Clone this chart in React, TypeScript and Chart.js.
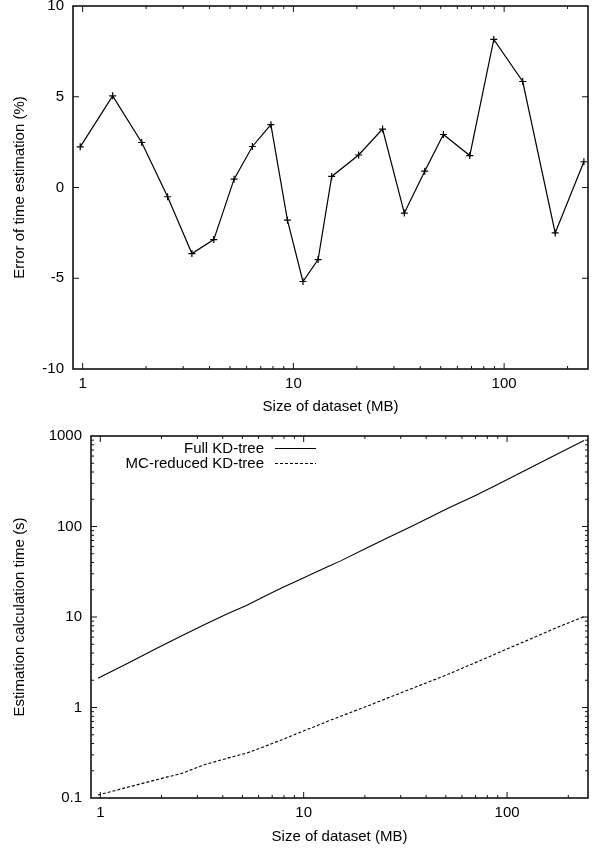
import React, { useEffect, useRef } from "react";
import { Chart, registerables } from "chart.js";

Chart.register(...registerables);

// ---------- data ----------
const sizes = [0.974, 1.388, 1.907, 2.53, 3.3, 4.19, 5.23, 6.39, 7.82, 9.37, 11.1, 13.1, 15.2, 20.4, 26.5, 33.6, 42.0, 51.5, 68.7, 89.3, 122.5, 174.7, 239];
const errors = [2.24, 5.05, 2.48, -0.51, -3.64, -2.87, 0.46, 2.26, 3.46, -1.8, -5.18, -3.97, 0.61, 1.79, 3.22, -1.41, 0.9, 2.92, 1.76, 8.16, 5.84, -2.5, 1.42];
const fullTimes = [2.1, 3.14, 4.55, 6.24, 8.37, 10.8, 13.4, 16.8, 21.1, 25.3, 30.2, 35.8, 41.7, 57.8, 76.9, 99.5, 127, 160, 216, 290, 415, 625, 890];
const mcTimes = [0.108, 0.133, 0.16, 0.188, 0.236, 0.274, 0.313, 0.37, 0.44, 0.52, 0.605, 0.703, 0.8, 1.03, 1.3, 1.6, 1.95, 2.34, 3.08, 3.97, 5.39, 7.61, 10.1];

const xTickLabels = [1, 10, 100];
const errTicks = [-10, -5, 0, 5, 10];
const timeTickLabels = [0.1, 1, 10, 100, 1000];

const seriesLabels = ["Full KD-tree", "MC-reduced KD-tree"];

const FONT = "'Liberation Sans', Arial, Helvetica, sans-serif";
const FS = 15;

function logTicks(min: number, max: number) {
  const out: any[] = [];
  for (let e = Math.floor(Math.log10(min)); e <= Math.ceil(Math.log10(max)); e++) {
    for (let m = 1; m <= 9; m++) {
      const v = parseFloat((m * Math.pow(10, e)).toPrecision(6));
      if (v >= min * 0.9999 && v <= max * 1.0001) out.push({ value: v, major: m === 1 });
    }
  }
  return out;
}

const framePlugin = {
  id: "frame",
  afterDatasetsDraw(chart: any) {
    const { ctx, chartArea: a, scales } = chart;
    ctx.save();
    ctx.strokeStyle = "#111";
    ctx.lineWidth = 1;
    ctx.beginPath();
    const xs = scales.x;
    const ys = scales.y;
    for (const t of xs.ticks) {
      const px = xs.getPixelForValue(t.value);
      if (px < a.left + 0.5 || px > a.right - 0.5) continue;
      const len = xs.type === "linear" || t.major ? 6 : 3;
      ctx.moveTo(px, a.bottom);
      ctx.lineTo(px, a.bottom - len);
      ctx.moveTo(px, a.top);
      ctx.lineTo(px, a.top + len);
    }
    for (const t of ys.ticks) {
      const py = ys.getPixelForValue(t.value);
      if (py < a.top + 0.5 || py > a.bottom - 0.5) continue;
      const len = ys.type === "linear" || t.major ? 6 : 3;
      ctx.moveTo(a.left, py);
      ctx.lineTo(a.left + len, py);
      ctx.moveTo(a.right, py);
      ctx.lineTo(a.right - len, py);
    }
    ctx.stroke();
    ctx.lineWidth = 1.6;
    ctx.strokeRect(a.left, a.top, a.right - a.left, a.bottom - a.top);
    ctx.restore();
  },
};

const legendPlugin = {
  id: "gpLegend",
  afterDraw(chart: any) {
    const { ctx, chartArea: a } = chart;
    ctx.save();
    ctx.font = `${FS}px ${FONT}`;
    ctx.fillStyle = "#000";
    ctx.textAlign = "right";
    ctx.textBaseline = "middle";
    chart.data.datasets.forEach((ds: any, i: number) => {
      const y = a.top + 12.5 + i * 15;
      ctx.fillText(ds.label, a.left + 173, y);
      ctx.beginPath();
      ctx.strokeStyle = ds.borderColor;
      ctx.lineWidth = ds.borderWidth;
      ctx.setLineDash(ds.borderDash || []);
      ctx.moveTo(a.left + 184, y);
      ctx.lineTo(a.left + 225, y);
      ctx.stroke();
    });
    ctx.restore();
  },
};

const font = { family: FONT, size: FS };

function noPad(s: any) {
  s.paddingTop = 0;
  s.paddingBottom = 0;
  s.paddingLeft = 0;
  s.paddingRight = 0;
}

function xScale(height: number) {
  return {
    type: "logarithmic",
    position: "bottom",
    min: 0.9,
    max: 250,
    grid: { display: false, drawTicks: false },
    border: { display: false },
    afterBuildTicks: (s: any) => {
      s.ticks = logTicks(s.min, s.max);
    },
    ticks: {
      autoSkip: false,
      maxRotation: 0,
      padding: 6,
      color: "#000",
      font,
      callback: (v: number) => (xTickLabels.includes(v) ? String(v) : ""),
    },
    title: { display: true, text: "Size of dataset (MB)", color: "#000", font, padding: { top: 0, bottom: 4 } },
    afterFit: (s: any) => {
      s.height = height;
      noPad(s);
    },
  };
}

function topConfig(): any {
  return {
    type: "line",
    data: {
      datasets: [
        {
          label: "Error of time estimation",
          data: sizes.map((x, i) => ({ x, y: errors[i] })),
          borderColor: "#000",
          borderWidth: 1.2,
          pointStyle: "cross",
          pointRadius: 3.5,
          pointBorderWidth: 1.2,
          pointBorderColor: "#000",
          fill: false,
          tension: 0,
        },
      ],
    },
    options: {
      responsive: false,
      animation: false,
      devicePixelRatio: 1,
      events: [],
      layout: { autoPadding: false, padding: { top: 6, right: 6, left: 0, bottom: 0 } },
      plugins: { legend: { display: false }, tooltip: { enabled: false } },
      scales: {
        x: xScale(51),
        y: {
          type: "linear",
          position: "left",
          min: -10,
          max: 10,
          grid: { display: false, drawTicks: false },
          border: { display: false },
          afterBuildTicks: (s: any) => {
            s.ticks = errTicks.map((v) => ({ value: v, major: true }));
          },
          ticks: { padding: 9, color: "#000", font: { ...font, lineHeight: 0.8 }, callback: (v: number) => String(v) },
          title: { display: true, text: "Error of time estimation (%)", color: "#000", font, padding: { top: 11, bottom: 0 } },
          afterFit: (s: any) => {
            s.width = 73;
            noPad(s);
          },
        },
      },
    },
    plugins: [framePlugin],
  };
}

function bottomConfig(): any {
  return {
    type: "line",
    data: {
      datasets: [
        {
          label: seriesLabels[0],
          data: sizes.map((x, i) => ({ x, y: fullTimes[i] })),
          borderColor: "#000",
          borderWidth: 1.1,
          pointRadius: 0,
          fill: false,
          tension: 0,
        },
        {
          label: seriesLabels[1],
          data: sizes.map((x, i) => ({ x, y: mcTimes[i] })),
          borderColor: "#000",
          borderWidth: 1.1,
          borderDash: [3, 2],
          pointRadius: 0,
          fill: false,
          tension: 0,
        },
      ],
    },
    options: {
      responsive: false,
      animation: false,
      devicePixelRatio: 1,
      events: [],
      layout: { autoPadding: false, padding: { top: 16, right: 6, left: 0, bottom: 0 } },
      plugins: { legend: { display: false }, tooltip: { enabled: false } },
      scales: {
        x: xScale(52),
        y: {
          type: "logarithmic",
          position: "left",
          min: 0.1,
          max: 1000,
          grid: { display: false, drawTicks: false },
          border: { display: false },
          afterBuildTicks: (s: any) => {
            s.ticks = logTicks(s.min, s.max);
          },
          ticks: {
            autoSkip: false,
            padding: 9,
            color: "#000",
            font: { ...font, lineHeight: 0.8 },
            callback: (v: number) => (timeTickLabels.includes(v) ? String(v) : ""),
          },
          title: { display: true, text: "Estimation calculation time (s)", color: "#000", font, padding: { top: 11, bottom: 0 } },
          afterFit: (s: any) => {
            s.width = 91;
            noPad(s);
          },
        },
      },
    },
    plugins: [framePlugin, legendPlugin],
  };
}

function ChartCanvas({ make, width, height, top }: { make: () => any; width: number; height: number; top: number }) {
  const ref = useRef<HTMLCanvasElement | null>(null);
  useEffect(() => {
    if (!ref.current) return;
    const chart = new Chart(ref.current, make());
    return () => chart.destroy();
  }, []);
  return (
    <canvas
      ref={ref}
      width={width}
      height={height}
      style={{ position: "absolute", left: 0, top, width, height, display: "block" }}
    />
  );
}

export default function App() {
  return (
    <div style={{ position: "absolute", left: 0, top: 0, width: 594, height: 850, background: "#fff" }}>
      <ChartCanvas make={topConfig} width={594} height={420} top={0} />
      <ChartCanvas make={bottomConfig} width={594} height={430} top={420} />
    </div>
  );
}
